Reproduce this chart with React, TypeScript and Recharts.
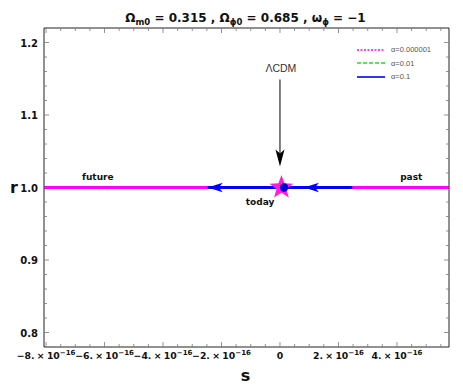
import React from 'react';
import { ComposedChart, Line, XAxis, YAxis, Scatter, Label, Legend } from 'recharts';

// ---------- data ----------
const xDomain: [number, number] = [-8.07e-16, 5.78e-16];
const yDomain: [number, number] = [0.78, 1.22];

const xMajorTicks = [-8, -6, -4, -2, 0, 2, 4].map((v) => v * 1e-16);
const xMinorTicks = [-7.5, -7, -6.5, -5.5, -5, -4.5, -3.5, -3, -2.5, -1.5, -1, -0.5, 0.5, 1, 1.5, 2.5, 3, 3.5, 4.5, 5, 5.5].map((v) => v * 1e-16);
const yMajorTicks = [0.8, 0.9, 1.0, 1.1, 1.2];
const yMinorTicks = [0.82, 0.84, 0.86, 0.88, 0.92, 0.94, 0.96, 0.98, 1.02, 1.04, 1.06, 1.08, 1.12, 1.14, 1.16, 1.18];

const seriesTiny = [ { s: -8.07e-16, r: 1 }, { s: 5.78e-16, r: 1 } ];      // α=0.000001
const seriesSmall = [ { s: -8.07e-16, r: 1 }, { s: 5.78e-16, r: 1 } ];     // α=0.01
const seriesLarge = [ { s: -2.47e-16, r: 1 }, { s: 2.47e-16, r: 1 } ];     // α=0.1
const flowArrows = [ { s: -2.47e-16, r: 1 }, { s: 0.82e-16, r: 1 } ];
const todayStar = [ { s: 0.05e-16, r: 1 } ];
const todayDot = [ { s: 0.14e-16, r: 1 } ];
const lcdmArrowLine = [ { s: 0, r: 1.149 }, { s: 0, r: 1.035 } ];
const lcdmArrowHead = [ { s: 0, r: 1.029 } ];
const annotations = [
  { s: -6.23e-16, r: 1.0097, text: 'future', bold: true },
  { s: 4.49e-16, r: 1.0097, text: 'past', bold: true },
  { s: -0.68e-16, r: 0.9765, text: 'today', bold: true },
  { s: 0.03e-16, r: 1.159, text: '\u039BCDM', bold: false },
];

const legendNames = ['\u03B1=0.000001', '\u03B1=0.01', '\u03B1=0.1'];
const legendColors = ['#ff00ff', '#22dd22', '#0000ff'];
const legendDash = ['2 1.5', '4 2', ''];

const xTicksAll = [...xMajorTicks, ...xMinorTicks].sort((a, b) => a - b);
const yTicksAll = [...yMajorTicks, ...yMinorTicks].sort((a, b) => a - b);

const FONT = 'DejaVu Sans, Verdana, sans-serif';
const TICK_COLOR = '#777';

const isMajorX = (v: number) => Math.abs(v / 2e-16 - Math.round(v / 2e-16)) < 1e-6;
const isMajorY = (v: number) => Math.abs(v * 10 - Math.round(v * 10)) < 1e-6;

const XTickBottom = (props: any) => {
  const { x, y, payload } = props;
  const v = payload.value as number;
  const major = isMajorX(v);
  const m = Math.round(v / 1e-16);
  return (
    <g>
      <line x1={x} x2={x} y1={y} y2={y - (major ? 5 : 3)} stroke={TICK_COLOR} strokeWidth={0.8} />
      {major && (
        <text x={x} y={y + 12} textAnchor="middle" fontFamily={FONT} fontWeight="bold" fontSize={9.3} fill="#111">
          {m === 0 ? (
            '0'
          ) : (
            <>
              <tspan>{`${m < 0 ? '\u2212' : ''}${Math.abs(m)}.\u2005\u00D7\u200510`}</tspan>
              <tspan dy={-4} fontSize={7}>{'\u221216'}</tspan>
            </>
          )}
        </text>
      )}
    </g>
  );
};

const XTickTop = (props: any) => {
  const { x, y, payload } = props;
  const major = isMajorX(payload.value);
  return <line x1={x} x2={x} y1={y} y2={y + (major ? 5 : 3)} stroke={TICK_COLOR} strokeWidth={0.8} />;
};

const YTickLeft = (props: any) => {
  const { x, y, payload } = props;
  const v = payload.value as number;
  const major = isMajorY(v);
  return (
    <g>
      <line x1={x} x2={x + (major ? 5 : 3)} y1={y} y2={y} stroke={TICK_COLOR} strokeWidth={0.8} />
      {major && (
        <text x={x - 6} y={y + 4} textAnchor="end" fontFamily={FONT} fontWeight="bold" fontSize={10} fill="#111">
          {v.toFixed(1)}
        </text>
      )}
    </g>
  );
};

const YTickRight = (props: any) => {
  const { x, y, payload } = props;
  const major = isMajorY(payload.value);
  return <line x1={x} x2={x - (major ? 5 : 3)} y1={y} y2={y} stroke={TICK_COLOR} strokeWidth={0.8} />;
};

const starPoints = (cx: number, cy: number, R: number, rIn: number) => {
  const pts: string[] = [];
  for (let i = 0; i < 10; i++) {
    const rad = i % 2 === 0 ? R : rIn;
    const a = -Math.PI / 2 + (i * Math.PI) / 5;
    pts.push(`${cx + rad * Math.cos(a)},${cy + rad * Math.sin(a)}`);
  }
  return pts.join(' ');
};

const StarShape = (p: any) => <polygon points={starPoints(p.cx, p.cy, 12.5, 5.2)} fill="#ff1fd6" />;
const DotShape = (p: any) => <circle cx={p.cx} cy={p.cy} r={4.2} fill="#0000dd" />;
const LeftArrowShape = (p: any) => (
  <path d={`M${p.cx},${p.cy} L${p.cx + 15},${p.cy - 4.8} L${p.cx + 11},${p.cy} L${p.cx + 15},${p.cy + 4.8} Z`} fill="#0000ff" />
);
const DownArrowShape = (p: any) => (
  <path d={`M${p.cx},${p.cy} L${p.cx - 4.5},${p.cy - 17} L${p.cx},${p.cy - 13} L${p.cx + 4.5},${p.cy - 17} Z`} fill="#000" />
);
const TextShape = (p: any) => {
  const d = p.payload;
  return (
    <text
      x={p.cx}
      y={p.cy}
      textAnchor="middle"
      fontFamily={d.bold ? FONT : 'Liberation Sans, Arial, sans-serif'}
      fontWeight={d.bold ? 'bold' : 'normal'}
      fontSize={d.bold ? 9 : 10.5}
      fill={d.bold ? '#111' : '#333'}
    >
      {d.text}
    </text>
  );
};

const TitleContent = (props: any) => {
  const vb = props.viewBox;
  const cx = vb.x + vb.width / 2;
  return (
    <text x={cx - 1} y={vb.y - 5} textAnchor="middle" fontFamily={FONT} fontWeight="bold" fontSize={12} fill="#111">
      <tspan>{'\u03A9'}</tspan>
      <tspan fontSize={8.5} dy={3}>m0</tspan>
      <tspan dy={-3}>{' = 0.315 , \u03A9'}</tspan>
      <tspan fontSize={8.5} dy={3}>{'\u03D50'}</tspan>
      <tspan dy={-3}>{' = 0.685 , \u03C9'}</tspan>
      <tspan fontSize={8.5} dy={3}>{'\u03D5'}</tspan>
      <tspan dy={-3}>{' = \u22121'}</tspan>
    </text>
  );
};

const SLabel = (props: any) => {
  const vb = props.viewBox;
  return (
    <text x={vb.x + vb.width / 2 - 1} y={vb.y + 34} textAnchor="middle" fontFamily={FONT} fontWeight="bold" fontSize={16} fill="#111">
      s
    </text>
  );
};

const RLabel = (props: any) => {
  const vb = props.viewBox;
  return (
    <text x={2} y={vb.y + vb.height / 2 + 5} textAnchor="start" fontFamily={FONT} fontWeight="bold" fontSize={16} fill="#111">
      r
    </text>
  );
};

const LegendContent = () => (
  <div style={{ fontFamily: 'Liberation Sans, Arial, sans-serif', fontSize: 7.5, color: '#555' }}>
    {legendNames.map((n, i) => (
      <div key={n} style={{ display: 'flex', alignItems: 'center', height: 13.5 }}>
        <svg width={28} height={6} style={{ display: 'block' }}>
          <line x1={0} x2={28} y1={3} y2={3} stroke={legendColors[i]} strokeWidth={1.6} strokeDasharray={legendDash[i] || undefined} />
        </svg>
        <span style={{ marginLeft: 6, fontStyle: 'normal' }}>{n}</span>
      </div>
    ))}
  </div>
);

export default function App() {
  return (
    <ComposedChart width={447} height={376} margin={{ top: 19, right: 5, bottom: 36, left: 35 }}>
      <XAxis
        xAxisId="b"
        dataKey="s"
        type="number"
        domain={xDomain}
        ticks={xTicksAll}
        interval={0}
        height={1}
        tickSize={0}
        tickMargin={0}
        tickLine={false}
        tick={XTickBottom}
        axisLine={{ stroke: '#222', strokeWidth: 1 }}
        allowDataOverflow
      >
        <Label content={SLabel} />
      </XAxis>
      <XAxis
        xAxisId="t"
        dataKey="s"
        type="number"
        orientation="top"
        domain={xDomain}
        ticks={xTicksAll}
        interval={0}
        height={1}
        tickSize={0}
        tickMargin={0}
        tickLine={false}
        tick={XTickTop}
        axisLine={{ stroke: '#222', strokeWidth: 1 }}
        allowDataOverflow
      >
        <Label content={TitleContent} />
      </XAxis>
      <YAxis
        yAxisId="l"
        type="number"
        domain={yDomain}
        ticks={yTicksAll}
        interval={0}
        width={1}
        tickSize={0}
        tickMargin={0}
        tickLine={false}
        tick={YTickLeft}
        axisLine={{ stroke: '#222', strokeWidth: 1 }}
        allowDataOverflow
      >
        <Label content={RLabel} />
      </YAxis>
      <YAxis
        yAxisId="r"
        type="number"
        orientation="right"
        domain={yDomain}
        ticks={yTicksAll}
        interval={0}
        width={1}
        tickSize={0}
        tickMargin={0}
        tickLine={false}
        tick={YTickRight}
        axisLine={{ stroke: '#222', strokeWidth: 1 }}
        allowDataOverflow
      />
      <Legend
        layout="vertical"
        align="center"
        verticalAlign="middle"
        content={LegendContent}
        wrapperStyle={{ top: 35, left: 349, width: 95, height: 42 }}
      />
      <Line xAxisId="t" yAxisId="r" data={seriesSmall} dataKey="r" stroke="#22dd22" strokeWidth={3} strokeDasharray="6 3" dot={false} isAnimationActive={false} />
      <Line xAxisId="b" yAxisId="l" data={seriesTiny} dataKey="r" stroke="#ff00ff" strokeWidth={3} dot={false} isAnimationActive={false} />
      <Line xAxisId="b" yAxisId="l" data={seriesLarge} dataKey="r" stroke="#0000ff" strokeWidth={3.2} dot={false} isAnimationActive={false} />
      <Line xAxisId="b" yAxisId="l" data={lcdmArrowLine} dataKey="r" stroke="#000" strokeWidth={1} dot={false} isAnimationActive={false} />
      <Scatter xAxisId="b" yAxisId="l" data={flowArrows} dataKey="r" shape={LeftArrowShape} isAnimationActive={false} />
      <Scatter xAxisId="b" yAxisId="l" data={lcdmArrowHead} dataKey="r" shape={DownArrowShape} isAnimationActive={false} />
      <Scatter xAxisId="b" yAxisId="l" data={todayStar} dataKey="r" shape={StarShape} isAnimationActive={false} />
      <Scatter xAxisId="b" yAxisId="l" data={todayDot} dataKey="r" shape={DotShape} isAnimationActive={false} />
      <Scatter xAxisId="b" yAxisId="l" data={annotations} dataKey="r" shape={TextShape} isAnimationActive={false} />
    </ComposedChart>
  );
}
